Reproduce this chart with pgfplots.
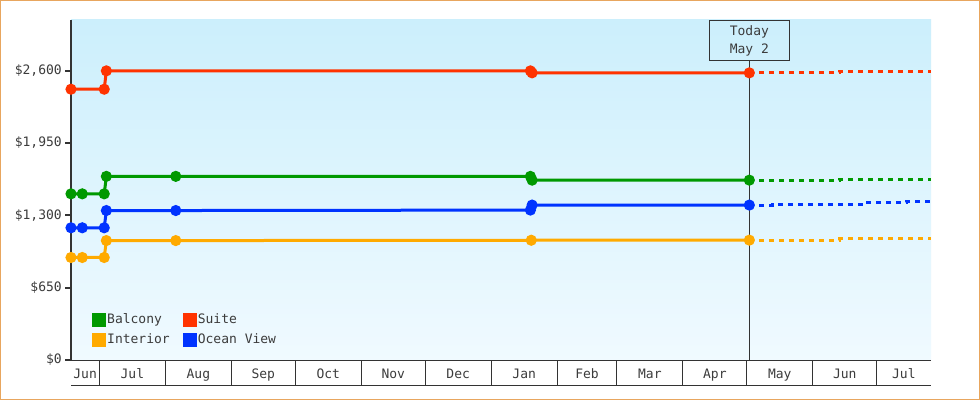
\documentclass[border=0pt]{standalone}
\usepackage{fontspec}
\setmainfont{DejaVu Sans Mono}
\usepackage{pgfplots}
\pgfplotsset{compat=1.18}
\definecolor{cRed}{RGB}{255,51,0}
\definecolor{cGreen}{RGB}{0,153,0}
\definecolor{cBlue}{RGB}{0,51,255}
\definecolor{cOrange}{RGB}{255,170,0}
\definecolor{cBorder}{RGB}{232,166,94}
\definecolor{cAxis}{RGB}{51,51,51}
\definecolor{cText}{RGB}{60,60,60}
\definecolor{bgTop}{RGB}{204,239,252}
\definecolor{bgBot}{RGB}{240,250,255}
\begin{document}
\begin{tikzpicture}[x=1bp,y=1bp]
\useasboundingbox (0,0) rectangle (980,400);
\fill[white] (0,0) rectangle (980,400);
\draw[cBorder, line width=1.5bp] (0.75,0.75) rectangle (979.25,399.25);
\begin{axis}[
  name=ax,
  at={(71bp,40bp)}, anchor=south west,
  scale only axis, width=860bp, height=340bp,
  xmin=16.7, xmax=420.5, ymin=0, ymax=3055,
  axis background/.style={top color=bgTop, bottom color=bgBot, draw=none},
  axis lines*=left,
  x axis line style={cAxis, line width=1bp},
  y axis line style={cAxis, line width=2.2bp},
  font=\fontsize{13bp}{15bp}\selectfont,
  tick align=outside,
  major tick length=6bp,
  ytick={0,650,1300,1950,2600},
  yticklabels={\$0,\$650,{\$1,300},{\$1,950},{\$2,600}},
  ytick style={cAxis, line width=2bp},
  yticklabel style={text=cText, inner xsep=3bp},
  xtick={23.35,45.5,76.5,107,137.5,168,198.5,229.5,259,288.5,319,349.5,380,407.75},
  xticklabels={Jun,Jul,Aug,Sep,Oct,Nov,Dec,Jan,Feb,Mar,Apr,May,Jun,Jul},
  xtick style={draw=none},
  xticklabel style={text=cText, anchor=base, yshift=-12bp},
  clip=false,
  legend columns=2,
  legend cell align=left,
  legend style={at={(0.0244,0.1397)}, anchor=north west, draw=none, fill=none,
    inner sep=0pt, row sep=6bp, text=cText,
    nodes={inner sep=1bp},
    /tikz/every even column/.append style={column sep=12bp}},
  legend image code/.code={\fill[#1] (0bp,-5.5bp) rectangle (11bp,5.5bp);},
  every axis plot/.append style={line width=3bp},
  mark size=4bp,
]
\pgfplotsinvokeforeach{30,61,92,122,153,183,214,245,273,304,334,365,395}{
  \draw[cAxis, line width=1bp] (axis cs:#1,0) -- ++(0bp,-25bp);
}
\draw[cAxis, line width=0.9bp] (axis cs:335.2,0) -- (axis cs:335.2,2693);
\node[draw=cAxis, line width=0.9bp, anchor=north, minimum width=80bp, minimum height=40bp,
  align=center, text=cText, font=\fontsize{13bp}{18bp}\selectfont, inner sep=0pt]
  at (axis cs:335.2,3055) {Today\\May 2};

\addplot[cGreen, mark=*] coordinates {(16.7,1493) (22.0,1493) (32.3,1493) (33.3,1650) (65.9,1650) (232.4,1650) (233.2,1616) (335.2,1616)};
\addlegendentry{Balcony}
\addplot[cRed, mark=*] coordinates {(16.7,2433) (32.3,2433) (33.3,2598) (232.4,2598) (233.2,2580) (335.2,2580)};
\addlegendentry{Suite}
\addplot[cOrange, mark=*] coordinates {(16.7,921) (22.0,921) (32.3,921) (33.3,1073) (65.9,1073) (232.8,1076) (335.2,1077)};
\addlegendentry{Interior}
\addplot[cBlue, mark=*] coordinates {(16.7,1188) (22.0,1188) (32.3,1188) (33.3,1343) (65.9,1343) (232.4,1347) (233.2,1392) (335.2,1392)};
\addlegendentry{Ocean View}

\addplot[cGreen, line width=3bp, dash pattern=on 5bp off 5bp, forget plot] coordinates {(335.2,1616) (377.6,1616) (377.6,1625) (420.5,1625)};
\addplot[cRed, line width=3bp, dash pattern=on 5bp off 5bp, forget plot] coordinates {(335.2,2580) (377.6,2580) (377.6,2590) (420.5,2590)};
\addplot[cOrange, line width=3bp, dash pattern=on 5bp off 5bp, forget plot] coordinates {(335.2,1077) (377.6,1077) (377.6,1088) (420.5,1088)};
\addplot[cBlue, line width=3bp, dash pattern=on 5bp off 5bp, forget plot] coordinates {(335.2,1392) (346.1,1392) (346.1,1401) (388.9,1401) (388.9,1419) (409.2,1419) (409.2,1428) (420.5,1428)};
\end{axis}
\draw[cAxis, line width=1bp] ([yshift=-25bp]ax.south west) -- ([yshift=-25bp]ax.south east);
\end{tikzpicture}
\end{document}
